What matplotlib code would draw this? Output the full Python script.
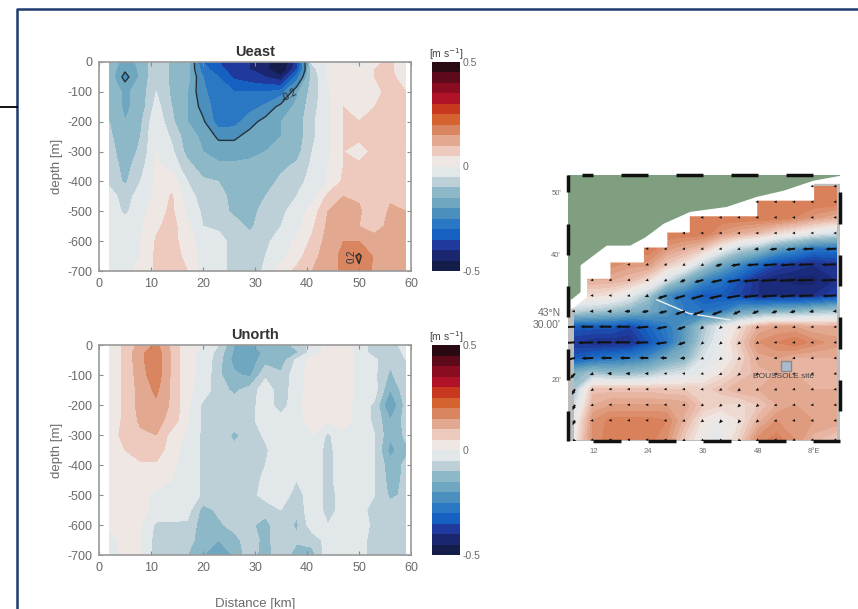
import numpy as np
import matplotlib
matplotlib.use('Agg')
from matplotlib import pyplot as plt
from matplotlib.colors import ListedColormap, LinearSegmentedColormap, BoundaryNorm
from matplotlib.lines import Line2D

plt.rcParams['font.family'] = ['Liberation Sans', 'DejaVu Sans']
plt.rcParams['axes.unicode_minus'] = False
plt.rcParams['contour.negative_linestyle'] = 'solid'

W, H = 858, 609
GREY = '#6a6a6a'

# section data: distance [km], depth [m], velocities [m/s]
dist = [2, 5, 8, 11, 14, 17, 20, 23, 26, 29, 32, 35, 38, 41, 44, 47, 50, 53, 56, 59]
depth = [0, -25, -50, -100, -150, -200, -250, -300, -350, -400, -450, -500, -550, -600, -650, -700]
ueast = [
    [-.12, -.17, -.14, -.06, -.11, -.12, -.30, -.35, -.38, -.40, -.43, -.50, -.38, -.04, .00, -.01, -.03, .04, .06, .01],
    [-.12, -.19, -.14, -.06, -.11, -.13, -.28, -.33, -.38, -.40, -.44, -.50, -.36, -.07, .00, .02, .02, .05, .06, .01],
    [-.12, -.22, -.14, -.06, -.11, -.13, -.25, -.30, -.36, -.38, -.40, -.44, -.28, -.08, .00, .04, .03, .05, .06, .03],
    [-.12, -.16, -.13, -.05, -.11, -.15, -.24, -.28, -.30, -.30, -.30, -.28, -.16, -.08, -.01, .05, .03, .04, .06, .05],
    [-.11, -.16, -.13, -.03, -.10, -.15, -.22, -.28, -.29, -.27, -.24, -.18, -.14, -.07, -.01, .05, .03, .05, .06, .05],
    [-.10, -.15, -.11, -.01, -.09, -.15, -.19, -.28, -.27, -.22, -.18, -.15, -.13, -.06, -.01, .05, .05, .05, .06, .05],
    [-.09, -.14, -.10, .00, -.06, -.13, -.16, -.21, -.21, -.18, -.16, -.15, -.13, -.06, -.01, .05, .06, .06, .05, .05],
    [-.08, -.13, -.09, .00, -.04, -.12, -.15, -.17, -.17, -.16, -.15, -.15, -.12, -.05, -.01, .05, .03, .06, .05, .05],
    [-.07, -.12, -.07, .01, -.02, -.08, -.13, -.14, -.14, -.14, -.13, -.11, -.09, -.04, .00, .05, .06, .06, .05, .05],
    [-.06, -.11, -.05, .01, .03, -.05, -.09, -.10, -.12, -.13, -.12, -.09, -.07, -.03, .00, .06, .07, .05, .06, .07],
    [-.03, -.07, -.03, .01, .055, -.03, -.07, -.09, -.11, -.12, -.10, -.07, -.05, -.02, .06, .10, .09, .05, .09, .08],
    [-.02, -.06, -.02, .03, .06, -.01, -.06, -.08, -.11, -.11, -.09, -.06, -.03, .02, .10, .12, .11, .05, .11, .10],
    [-.02, -.03, -.01, .04, .07, .01, -.05, -.06, -.08, -.11, -.07, -.05, -.02, .04, .11, .14, .10, .07, .12, .10],
    [-.01, -.01, .00, .055, .07, .02, -.02, -.03, -.07, -.08, -.06, -.03, .01, .06, .12, .15, .15, .13, .13, .11],
    [-.01, -.01, .00, .06, .08, .03, -.02, -.03, -.07, -.08, -.05, -.02, .03, .08, .13, .16, .21, .14, .13, .11],
    [-.01, -.01, .01, .06, .08, .05, -.02, -.03, -.07, -.08, -.04, .03, .06, .10, .13, .16, .19, .14, .13, .11],
]
unorth = [
    [.02, .06, .12, .16, .09, .01, .00, -.05, -.15, -.16, -.12, -.13, -.08, -.03, .02, .02, -.01, -.08, -.07, -.03],
    [.02, .06, .14, .18, .09, .01, -.01, -.07, -.16, -.18, -.14, -.14, -.11, -.03, .02, .02, -.01, -.08, -.08, -.04],
    [.02, .06, .14, .18, .09, .01, -.01, -.08, -.17, -.18, -.12, -.13, -.04, .02, .03, .02, -.01, -.04, -.09, -.05],
    [.02, .06, .13, .18, .09, .01, -.01, -.09, -.14, -.16, -.06, -.09, -.02, .02, .02, .02, -.01, -.04, -.11, -.06],
    [.02, .06, .12, .16, .09, .01, -.02, -.08, -.11, -.08, -.02, -.08, -.02, .02, .01, .02, -.01, -.03, -.15, -.07],
    [.02, .06, .12, .14, .09, .01, -.06, -.08, -.08, -.07, -.02, -.08, -.01, .02, .01, .02, -.02, -.06, -.21, -.08],
    [.02, .06, .11, .12, .08, .01, -.06, -.07, -.07, -.07, -.01, -.03, -.01, .01, .01, .02, -.02, -.06, -.15, -.08],
    [.02, .07, .09, .10, .03, -.01, -.06, -.07, -.11, -.08, -.04, -.01, -.01, .00, -.06, -.01, -.02, -.05, -.14, -.09],
    [.02, .05, .08, .08, .02, -.02, -.06, -.08, -.09, -.08, -.06, -.01, -.01, -.01, -.07, -.01, -.01, -.05, -.17, -.11],
    [.02, .03, .04, .04, .01, -.02, -.06, -.07, -.08, -.07, -.05, -.01, -.01, -.01, -.07, -.01, -.01, -.05, -.13, -.09],
    [.02, .03, .02, .02, .00, -.02, -.06, -.07, -.07, -.07, -.04, -.01, -.05, -.01, -.07, -.01, -.01, -.05, -.12, -.09],
    [.02, .02, .01, -.01, -.02, -.01, -.06, -.07, -.07, -.07, -.03, -.01, -.08, -.01, -.07, -.03, -.02, -.05, -.11, -.09],
    [.02, .02, .01, -.01, -.01, -.03, -.12, -.09, -.06, -.07, -.08, -.05, -.09, -.01, -.07, -.03, -.04, -.06, -.08, -.07],
    [.02, .02, .00, -.06, -.06, -.06, -.13, -.11, -.08, -.09, -.12, -.06, -.11, -.02, -.05, -.04, -.03, -.06, -.09, -.06],
    [-.03, .02, .00, -.07, -.07, -.07, -.14, -.15, -.12, -.07, -.12, -.06, -.09, -.08, -.03, -.05, -.04, -.06, -.08, -.05],
    [-.03, .02, .00, -.07, -.07, -.10, -.15, -.21, -.14, -.07, -.13, -.06, -.13, -.12, -.02, -.05, -.04, -.06, -.08, -.05],
]

# map data: minutes of longitude east of 7E, minutes of latitude north of 43N
map_lon = [8, 12, 16, 20, 24, 28, 32, 36, 40, 44, 48, 52, 56, 60, 65]
map_lat = [51, 48.5, 46, 43.5, 41, 38.5, 36, 33.5, 31, 28.5, 26, 23.5, 21, 18.5, 16, 13.5, 10.4]
map_u = [
    [.2, .2, .2, .2, .2, .2, .2, .2, .2, .2, .2, .2, .2, .2, .2],
    [.2, .2, .2, .2, .2, .2, .2, .2, .2, .2, .2, .2, .2, .2, .2],
    [.2, .2, .2, .2, .2, .2, .2, .2, .2, .2, .2, .2, .18, .15, .12],
    [.2, .2, .2, .2, .2, .2, .2, .2, .15, .12, .10, .05, .02, -.02, -.05],
    [.2, .2, .2, .2, .2, .15, .12, .08, .0, -.08, -.12, -.2, -.25, -.3, -.3],
    [.15, .2, .17, .15, .15, .08, .03, -.08, -.18, -.25, -.32, -.38, -.40, -.42, -.40],
    [.12, .12, .12, .1, .05, -.05, -.15, -.25, -.3, -.36, -.42, -.44, -.45, -.45, -.42],
    [.05, .05, .03, -.02, -.10, -.25, -.3, -.35, -.35, -.38, -.42, -.42, -.42, -.42, -.38],
    [-.08, -.10, -.12, -.15, -.18, -.22, -.28, -.3, -.28, -.2, -.18, -.15, -.15, -.12, -.1],
    [-.35, -.35, -.35, -.38, -.33, -.28, -.22, -.1, -.02, .05, .12, .14, .14, .12, .12],
    [-.4, -.42, -.42, -.42, -.36, -.3, -.2, -.08, .0, .08, .16, .18, .2, .17, .15],
    [-.35, -.32, -.3, -.28, -.25, -.18, -.14, -.04, .0, .06, .13, .14, .12, .12, .12],
    [-.15, -.1, -.12, -.12, -.1, -.06, -.04, -.01, .04, .08, .11, .12, .12, .12, .12],
    [-.1, .09, .09, .09, .09, .08, .08, .07, .09, .12, .12, .14, .13, .12, .12],
    [-.05, .12, .14, .14, .14, .14, .13, .08, .06, .05, .08, .12, .14, .14, .14],
    [.0, .16, .19, .19, .19, .18, .11, .03, .0, .04, .11, .16, .16, .14, .14],
    [.02, .17, .19, .19, .19, .16, .07, .0, .0, .07, .17, .19, .16, .11, .07],
]
nan = np.nan
map_v = [
    [nan, nan, nan, nan, nan, nan, nan, nan, nan, nan, nan, nan, nan, 0, 0],
    [nan, nan, nan, nan, nan, nan, nan, nan, nan, nan, 0, 0, 0, 0, 0],
    [nan, nan, nan, nan, nan, nan, nan, 0, 0, 0, 0, 0, 0, 0, 0],
    [nan, nan, nan, nan, nan, nan, 0, 0, 0, 0, 0, 0, 0, 0, 0],
    [nan, nan, nan, nan, 0, -.01, -.01, -.01, -.01, -.02, -.02, -.02, -.02, -.01, -.01],
    [nan, nan, nan, -.01, -.02, -.02, -.03, -.04, -.04, -.03, -.02, -.02, -.02, -.01, -.01],
    [nan, -.01, -.01, -.01, -.02, -.03, -.05, -.05, -.05, -.04, -.03, -.02, -.02, -.01, -.01],
    [nan, .0, .0, -.01, -.03, -.06, -.07, -.07, -.06, -.05, -.03, -.02, -.02, -.01, -.01],
    [-.01, -.01, -.01, -.01, -.02, -.04, -.07, -.08, -.08, -.07, -.05, -.04, -.03, -.02, -.01],
    [-.01, .0, .0, .0, -.02, -.04, -.06, -.06, -.05, -.04, -.04, -.03, -.02, -.01, -.01],
    [-.02, -.01, .0, .0, -.01, -.03, -.05, -.05, -.05, -.05, -.03, -.01, -.01, -.01, -.01],
    [-.06, -.01, .0, .0, .0, .0, -.01, -.03, -.05, -.05, -.04, -.01, -.01, -.01, -.01],
    [-.12, -.03, .0, .0, .0, .0, .0, -.01, -.03, -.05, -.03, -.02, -.01, -.01, -.01],
    [-.14, -.04, .0, .0, .0, .0, .0, -.01, -.03, -.05, -.03, -.02, -.01, -.01, -.01],
    [-.14, -.02, .0, .0, .0, .0, -.01, -.02, -.04, -.06, -.05, -.02, -.01, -.01, -.01],
    [-.12, -.01, .0, .0, .0, -.01, -.02, -.04, -.07, -.07, -.05, -.02, -.01, -.01, -.01],
    [-.08, -.01, .0, .0, .0, -.01, -.03, -.05, -.07, -.06, -.03, -.01, -.01, -.01, -.01],
]
coast_lon = [7.3, 9.1, 9.1, 12, 14.9, 20, 23.3, 27.3, 33.1, 41.1, 47.6, 53.5, 60, 66]
coast_lat = [33.0, 34.1, 38.4, 40, 41.6, 41.6, 42.9, 45.1, 47, 47.8, 49.4, 50.4, 52, 52.8]
stair_lon = [7.3, 10.5, 10.5, 15.6, 15.6, 22.9, 22.9, 28, 28, 32.9, 32.9, 47.6, 47.6, 60, 60, 66]
stair_lat = [31.4, 33.3, 36.3, 36.3, 38.9, 38.9, 41.3, 41.3, 43.7, 43.7, 46.3, 46.3, 48.8, 48.8, 51.5, 51.5]
front_lon = [25.9, 33, 41.8]
front_lat = [32.8, 30.6, 29.6]
site_lon = [54]
site_lat = [22.2]

bar_colors = ['#141d4a', '#1a2670', '#1f3a9c', '#1560c0', '#2a78c4', '#4a8fbe', '#6fa6c0', '#8db8c8', '#bdd0d7', '#e2e7ea',
              '#efe7e3', '#edcabd', '#e3a890', '#d98560', '#d4632f', '#c8381f', '#b01228', '#8a0c20', '#5e0a1a', '#2a0a12']
levels = np.arange(-0.5, 0.501, 0.05)
cmap = ListedColormap(bar_colors)
norm = BoundaryNorm(levels, cmap.N)
smooth = LinearSegmentedColormap.from_list('smooth', bar_colors)


def px_axes(x0, y0, x1, y1):
    return plt.gcf().add_axes([x0 / W, 1 - y1 / H, (x1 - x0) / W, (y1 - y0) / H])


def section(box, bar_box, vals, title, xlabel=None):
    ax = px_axes(*box)
    ax.contourf(dist, depth, vals, levels=levels, cmap=cmap, norm=norm, extend='both')
    ax.set_xlim(0, 60)
    ax.set_ylim(-700, 0)
    ax.set_xticks(range(0, 61, 10))
    ax.set_yticks(range(-700, 1, 100))
    ax.tick_params(direction='in', length=3, width=0.8, color='#8a8a8a', labelcolor=GREY, labelsize=9, top=True, right=True, pad=5)
    for s in ax.spines.values():
        s.set_color('#9a9a9a')
        s.set_linewidth(1.2)
    ax.set_title(title, fontsize=10.5, fontweight='bold', color='#333333', pad=4)
    ax.set_ylabel('depth [m]', fontsize=9.5, color=GREY, labelpad=3)
    if xlabel:
        ax.set_xlabel(xlabel, fontsize=9.5, color=GREY, labelpad=17)

    cax = px_axes(*bar_box)
    cax.pcolormesh([0, 1], levels, np.array(levels[:-1] + 0.025).reshape(-1, 1), cmap=cmap, norm=norm)
    cax.set_xticks([])
    cax.yaxis.tick_right()
    cax.set_yticks([-0.5, 0, 0.5], ['-0.5', '0', '0.5'])
    cax.tick_params(length=0, labelcolor=GREY, labelsize=7.5, pad=2)
    for s in cax.spines.values():
        s.set_visible(False)
    cax.set_title('[m s$^{-1}$]', fontsize=7.5, color='#444444', pad=3)
    return ax


fig = plt.figure(figsize=(W / 100, H / 100), dpi=100, facecolor='white')

# outer frame of the slide
fig.add_artist(Line2D([17 / W, 17 / W, 1], [0, 1 - 9 / H, 1 - 9 / H], color='#1f3a6e', lw=1.8))
fig.add_artist(Line2D([0, 17 / W], [1 - 107 / H, 1 - 107 / H], color='black', lw=1.3))

ax1 = section((99, 62, 411, 271), (432, 62, 460, 271), ueast, 'Ueast')
ax1.contour(dist, depth, ueast, levels=[-0.2, 0.2], colors='#23303a', linewidths=1.0)
ax1.text(36.5, -112, '-0.2', fontsize=7, color='#23303a', rotation=30, ha='center', va='center')
ax1.text(48.5, -650, '0.2', fontsize=7, color='#23303a', rotation=90, ha='center', va='center')
section((99, 345, 411, 555), (432, 345, 460, 555), unorth, 'Unorth', 'Distance [km]')

# map of the currents
ax3 = px_axes(568, 175, 840, 441)
ax3.set_facecolor('#bdbdbd')
ax3.contourf(map_lon, map_lat, map_u, levels=np.arange(-0.5, 0.501, 0.02), cmap=smooth, vmin=-0.5, vmax=0.5, extend='both')
ax3.set_xlim(6.5, 65.8)
ax3.set_ylim(10.2, 52.8)
ax3.fill(stair_lon + coast_lon[::-1], stair_lat + coast_lat[::-1], color='white', zorder=2)
ax3.fill(coast_lon + [66, 6.5, 6.5], coast_lat + [53, 53, 33], color='#7f9f80', zorder=3)
ax3.plot(front_lon, front_lat, color='#e8f0f4', lw=1, zorder=4)

field = np.array(map_u)
u = -np.maximum(np.abs(field) * (field < 0), 0.08)
ax3.quiver(map_lon, map_lat, u, np.ma.masked_invalid(map_v), angles='xy', scale_units='dots', scale=0.027,
           units='dots', width=2.0, headwidth=1.8, headlength=2.0, headaxislength=2.0, color='#111111', zorder=5)
ax3.scatter(site_lon, site_lat, marker='s', s=55, color='#a9bccb', edgecolor='#8a8a8a', zorder=6)
ax3.text(53.5, 20.5, 'BOUSSOLE site', fontsize=6, color='#444444', ha='center', va='center', zorder=6)

ax3.set_xticks([12, 24, 36, 48, 60], ['12', '24', '36', '48', "8°E"])
ax3.set_yticks([20, 30, 40, 50], ["20'", "43°N\n30.00'", "40'", "50'"])
ax3.tick_params(length=0, labelcolor=GREY, labelsize=5.5, pad=5)
ax3.get_yticklabels()[1].set_fontsize(7.5)
for s in ax3.spines.values():
    s.set_visible(False)

# black and white border of the map
kw = dict(color='#111111', lw=2.5, solid_capstyle='butt', clip_on=False, zorder=7)
for a, b in [(9.5, 12), (18, 24), (30, 36), (42, 48), (54, 60)]:
    ax3.plot([a, b], [52.8, 52.8], **kw)
for a, b in [(12, 18), (24, 30), (36, 42), (48, 54), (60, 65.8)]:
    ax3.plot([a, b], [10.2, 10.2], **kw)
for a, b in [(50, 52.8), (40, 45), (30, 35), (20, 25), (10.2, 15)]:
    ax3.plot([6.5, 6.5], [a, b], **kw)
for a, b in [(45, 50), (35, 40), (25, 30), (15, 20)]:
    ax3.plot([65.8, 65.8], [a, b], **kw)

fig.savefig('out.png', dpi=100)
